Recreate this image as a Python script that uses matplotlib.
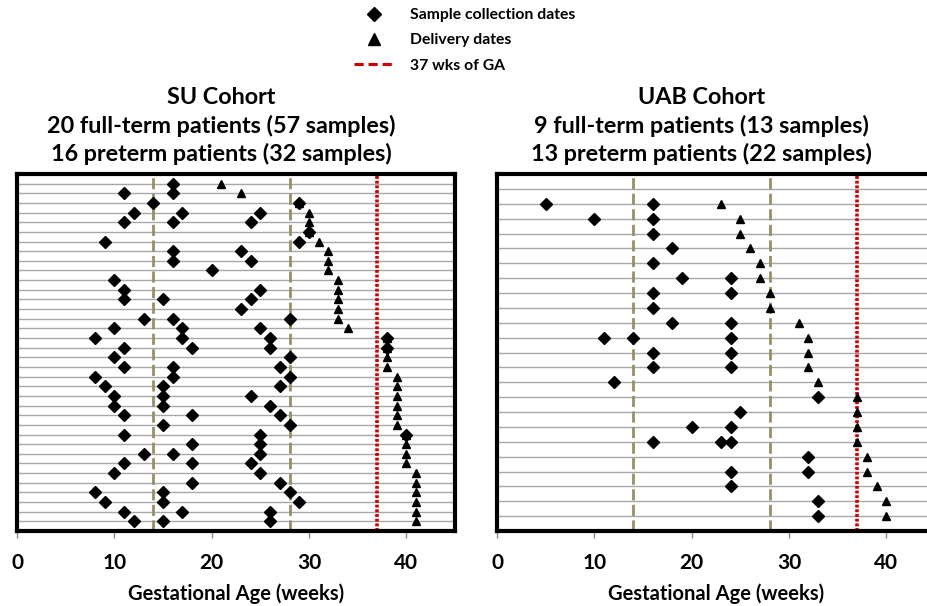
import numpy as np
import matplotlib.pyplot as plt
import matplotlib.transforms as mtransforms
from matplotlib.lines import Line2D

plt.rcParams['font.family'] = 'Lato'
plt.rcParams['font.weight'] = 'bold'
plt.rcParams['axes.labelweight'] = 'bold'

# gestational week of every sample, one list per patient (top row first)
su_samples = [
    [16], [11, 16], [14, 29], [12, 17, 25], [11, 16, 24], [30], [9, 29],
    [16, 23], [16, 24], [20], [10], [11, 25], [11, 15, 24], [23],
    [13, 16, 28], [10, 17, 25],
    [8, 17, 26, 38], [11, 18, 26, 38], [10, 28], [11, 16, 27], [8, 16, 28],
    [9, 15, 27], [10, 15, 24], [10, 15, 26], [11, 18, 27], [15, 28],
    [11, 25, 40], [18, 25], [13, 16, 25], [11, 18, 24], [10, 25], [18, 27],
    [8, 15, 28], [9, 15, 29], [11, 17, 26], [12, 15, 26],
]
su_delivery = [21, 23, 29, 30, 30, 30, 31, 32, 32, 32, 33, 33, 33, 33, 33, 34,
               38, 38, 38, 38, 39, 39, 39, 39, 39, 39, 40, 40, 40, 40,
               41, 41, 41, 41, 41, 41]

uab_samples = [
    [5, 16], [10, 16], [16], [18], [16], [19, 24], [16, 24], [16], [18, 24],
    [11, 14, 24], [16, 24], [16, 24], [12],
    [33], [25], [20, 24], [16, 23, 24], [32], [24, 32], [24], [33], [33],
]
uab_delivery = [23, 25, 25, 26, 27, 27, 28, 28, 31, 32, 32, 32, 33,
                37, 37, 37, 37, 38, 38, 39, 40, 40]

su_title = 'SU Cohort\n20 full-term patients (57 samples)\n16 preterm patients (32 samples)'
uab_title = 'UAB Cohort\n9 full-term patients (13 samples)\n13 preterm patients (22 samples)'

trimesters = [14, 28]
term_week = 37

olive = '#978f66'
red = '#cc0000'


def cohort_panel(ax, samples, delivery, title, lead=0):
    n = len(samples)
    rows = np.arange(1, n + 1) + lead
    xs = np.concatenate([np.asarray(s, float) for s in samples])
    ys = np.repeat(rows, [len(s) for s in samples])

    ax.set_xlim(0, 45)
    ax.set_ylim(n + lead + 1, 0)

    ax.set_yticks(np.arange(1, n + lead + 1))
    ax.yaxis.grid(True, color='#a8a8a8', lw=1.0)
    ax.set_axisbelow(True)
    ax.tick_params(axis='y', length=0, labelleft=False)

    for wk in trimesters:
        ax.axvline(wk, color=olive, lw=2, dashes=(4, 1.6), zorder=2)
    ax.axvline(term_week, color=red, lw=2.6, dashes=(0.8, 0.5), zorder=2)

    ax.plot(delivery, rows, ls='none', marker='^', ms=6, color='black', zorder=3)
    ax.plot(xs, ys, ls='none', marker='D', ms=6.6, color='black', zorder=4)

    ax.set_xticks([0, 10, 20, 30, 40])
    ax.tick_params(axis='x', direction='out', length=5, width=1, color='#8c8c8c',
                   labelsize=15, pad=11)
    ax.set_xlabel('Gestational Age (weeks)', fontsize=14.5, fontweight='bold',
                  labelpad=7)
    for s in ax.spines.values():
        s.set_linewidth(3)
        s.set_color('black')

    tr = mtransforms.blended_transform_factory(ax.transData, ax.transAxes)
    ax.text(21, 1.024, title, transform=tr, ha='center', va='bottom',
            fontsize=16.8, fontweight='bold', linespacing=1.36)


fig = plt.figure(figsize=(9.27, 6.06), dpi=100)
ax1 = fig.add_axes([17 / 927, 1 - 531 / 606, 438 / 927, 357 / 606])
ax2 = fig.add_axes([497 / 927, 1 - 531 / 606, 438 / 927, 357 / 606])

cohort_panel(ax1, su_samples, su_delivery, su_title)
cohort_panel(ax2, uab_samples, uab_delivery, uab_title, lead=1)

handles = [
    Line2D([], [], ls='none', marker='D', ms=7, color='black'),
    Line2D([], [], ls='none', marker='^', ms=9, color='black'),
    Line2D([], [], color=red, lw=2.2, dashes=(3, 1.6)),
]
labels = ['Sample collection dates', 'Delivery dates', '37 wks of GA']
fig.legend(handles, labels, loc='upper left', bbox_to_anchor=(354 / 927, 1 - 8 / 606),
           frameon=False, prop={'size': 11.3, 'weight': 'bold'}, handlelength=2.6,
           handletextpad=1.0, labelspacing=0.72, borderpad=0, borderaxespad=0)

fig.savefig('out.png', dpi=100)
